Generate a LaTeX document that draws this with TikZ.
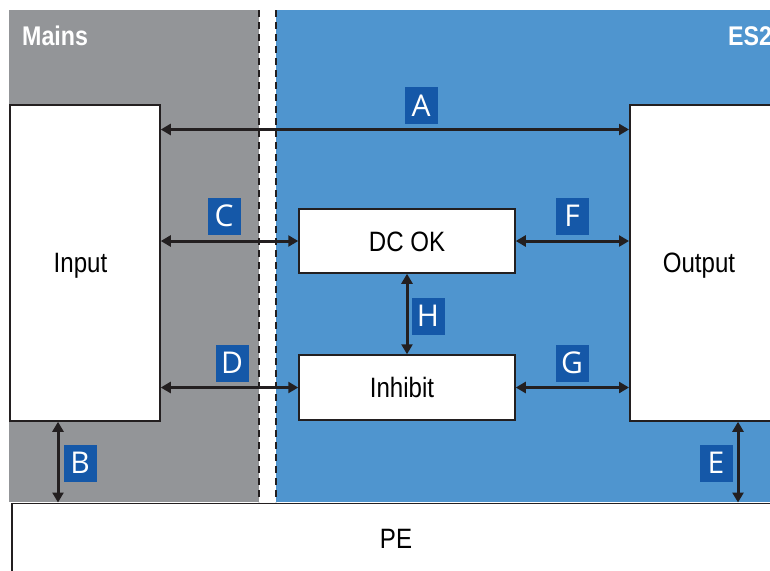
\documentclass[tikz,border=0pt]{standalone}
\usepackage{fontspec}
\setmainfont{Liberation Sans}[FakeStretch=0.86]
\newfontfamily\lblfont{Open Sans}
\usetikzlibrary{arrows.meta}
\definecolor{mainsgray}{HTML}{939598}
\definecolor{esblue}{HTML}{4F95CF}
\definecolor{lblblue}{HTML}{1558A8}
\definecolor{darkline}{HTML}{231F20}
\begin{document}
\begin{tikzpicture}[x=1pt,y=-1pt,
  box/.style={draw=darkline,line width=1.5pt,fill=white,inner sep=0pt},
  txt/.style={inner sep=0pt,anchor=base,font=\fontsize{28}{30}\selectfont},
  lbl/.style={fill=lblblue,text=white,inner sep=0pt,minimum width=33pt,minimum height=37pt,
    font=\lblfont\fontsize{30}{30}\selectfont},
  dbl/.style={draw=darkline,line width=3pt,{Triangle[length=10pt,width=11pt]}-{Triangle[length=10pt,width=11pt]}},
  sep/.style={draw=darkline,line width=1.5pt,dash pattern=on 7pt off 5pt},
  title/.style={text=white,inner sep=0pt,anchor=base west,font=\bfseries\fontsize{27}{29}\selectfont}]
\useasboundingbox (0,0) rectangle (770,570);
\clip (0,0) rectangle (770,570);
% regions
\fill[mainsgray] (9,10) rectangle (259,502);
\fill[esblue] (276,10) rectangle (775,502);
\draw[sep] (259,10) -- (259,502);
\draw[sep] (276,10) -- (276,502);
\node[title] (mains) at (22,45) {Mains};
\node[title] (es) at (728,45) {ES2};
% boxes
\node[box,minimum width=150pt,minimum height=316pt] (in) at (85,263) {};
\node[box,minimum width=143pt,minimum height=316pt,anchor=west] (out) at (629,263) {};
\node[box,minimum width=216pt,minimum height=64pt] (dc) at (407,241) {};
\node[box,minimum width=216pt,minimum height=65pt] (inh) at (407,387.5) {};
\node[box,minimum width=780pt,minimum height=80pt,anchor=north west] (pe) at (11,502.5) {};
% texts
\node[txt] (intext) at (80.5,272) {Input};
\node[txt] (outtext) at (699,272) {Output};
\node[txt] (dctext) at (407,251) {DC OK};
\node[txt] (inhtext) at (402,397) {Inhibit};
\node[txt] (petext) at (396,548) {PE};
% arrows
\draw[dbl] (in.east |- 0,129.5) -- (out.west |- 0,129.5);
\draw[dbl] (in.east |- dc.west) -- (dc.west);
\draw[dbl] (in.east |- inh.west) -- (inh.west);
\draw[dbl] (dc.east) -- (out.west |- dc.east);
\draw[dbl] (inh.east) -- (out.west |- inh.east);
\draw[dbl] (dc.south) -- (inh.north);
\draw[dbl] (in.south -| 58,0) -- (pe.north -| 58,0);
\draw[dbl] (out.south -| 738,0) -- (pe.north -| 738,0);
% labels
\node[lbl] (la) at (421,105.5) {A};
\node[lbl] (lb) at (80,463) {B};
\node[lbl] (lc) at (224,216) {C};
\node[lbl] (ld) at (232,363) {D};
\node[lbl] (le) at (716,463) {E};
\node[lbl] (lf) at (572,216) {F};
\node[lbl] (lg) at (572,363) {G};
\node[lbl] (lh) at (428,316) {H};
\end{tikzpicture}
\end{document}
